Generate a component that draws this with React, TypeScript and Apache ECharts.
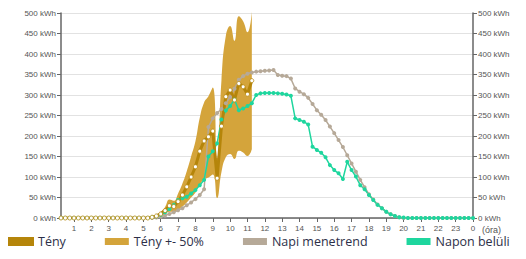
import React, { useEffect, useRef } from "react";
import * as echarts from "echarts";

// 15-minute intervals, value at end of each quarter hour (00:15 ... 24:00)
const tenyValues: (number | null)[] = [
  0, 0, 0, 0, 0, 0, 0, 0, 0, 0, 0, 0, 0, 0, 0, 0, 0, 0, 0, 0, 0,
  2, 5, 10, 18, 30, 28, 40, 56, 76, 100, 125, 163, 188, 198, 212, 97, 224, 296, 312, 288, 328, 320, 302, 335,
];

const napiMenetrend: number[] = [
  0, 0, 0, 0, 0, 0, 0, 0, 0, 0, 0, 0, 0, 0, 0, 0, 0, 0, 0, 0, 0, 0,
  1, 3, 6, 10, 14, 19, 24, 31, 38, 46,
  56, 70, 222, 243, 256, 266, 280, 295, 315, 337,
  346, 352, 355, 357, 358, 359, 360, 361, 349, 347,
  346, 340, 316, 308, 302, 293, 278, 263, 252, 239,
  223, 207, 190, 173, 153, 133, 113, 93, 75, 58,
  45, 33, 24, 15, 9, 5, 2, 0,
  0, 0, 0, 0, 0, 0, 0, 0, 0, 0, 0, 0, 0, 0, 0, 0,
];

const naponBeluli: number[] = [
  0, 0, 0, 0, 0, 0, 0, 0, 0, 0, 0, 0, 0, 0, 0, 0, 0, 0, 0, 0, 0,
  2, 4, 8, 14, 22, 32, 44, 48, 52, 60,
  68, 80, 93, 150, 163, 182, 240, 262, 273, 289,
  263, 267, 273, 280, 300, 304, 305, 305, 305, 304,
  303, 301, 298, 243, 239, 235, 228, 174, 166, 159,
  148, 129, 117, 109, 95, 137, 117, 101, 80, 70,
  56, 44, 32, 24, 15, 9, 5, 2, 1,
  0, 0, 0, 0, 0, 0, 0, 0, 0, 0, 0, 0, 0, 0, 0, 0,
];

// quarter-hour categories 00:15 ... 24:00
const quarters: string[] = Array.from({ length: 96 }, (_, i) => {
  const m = (i + 1) * 15;
  return `${Math.floor(m / 60)}:${String(m % 60).padStart(2, "0")}`;
});
const yTicks = { min: 0, max: 500, interval: 50 };

const C_TENY = "#B5850A";
const C_BAND = "#D4A43B";
const C_NAPI = "#B6A998";
const C_BELULI = "#1ED69E";

const isHour = (i: number) => (i + 1) % 4 === 0;

export default function App() {
  const ref = useRef<HTMLDivElement>(null);
  useEffect(() => {
    if (!ref.current) return;
    const chart = echarts.init(ref.current, undefined, { renderer: "svg" });
    const axisFont = { fontFamily: "Liberation Sans, Arial, sans-serif", fontSize: 8, color: "#555" };
    const yAxisCommon = {
      type: "value" as const,
      min: yTicks.min,
      max: yTicks.max,
      interval: yTicks.interval,
      axisLine: { show: true, lineStyle: { color: "#666", width: 1.5 } },
      axisTick: { show: true, length: 4, lineStyle: { color: "#666" } },
      axisLabel: { ...axisFont, margin: 5, formatter: (v: number) => `${v} kWh` },
    };
    chart.setOption({
      animation: false,
      grid: { left: 61, right: 53, top: 13, bottom: 41 },
      legend: {
        top: 235,
        left: 8,
        padding: 0,
        itemWidth: 24,
        itemHeight: 7,
        itemGap: 39,
        icon: "rect",
        textStyle: { fontFamily: "Open Sans, sans-serif", fontSize: 12.5, color: "#2d2f48" },
        data: [
          { name: "Tény", itemStyle: { color: C_TENY } },
          { name: "Tény +- 50%", itemStyle: { color: C_BAND } },
          { name: "Napi menetrend", itemStyle: { color: C_NAPI } },
          { name: "Napon belüli", itemStyle: { color: C_BELULI } },
        ],
      },
      xAxis: {
        type: "category",
        data: quarters,
        boundaryGap: false,
        name: "(óra)",
        nameLocation: "end",
        nameGap: 9,
        nameTextStyle: { ...axisFont, fontSize: 9, verticalAlign: "top", padding: [7, 0, 0, 0] },
        splitLine: { show: false },
        axisLine: { show: true, lineStyle: { color: "#666", width: 1.5 } },
        axisTick: { show: true, length: 4, alignWithLabel: true, interval: (i: number) => isHour(i), lineStyle: { color: "#666" } },
        axisLabel: {
          ...axisFont,
          margin: 6,
          interval: (i: number) => isHour(i),
          formatter: (_v: string, i: number) => `${((i + 1) / 4) % 24}`,
        },
      },
      yAxis: [
        { ...yAxisCommon, position: "left", splitLine: { show: true, lineStyle: { color: "#e2e2e2", width: 1 } } },
        { ...yAxisCommon, position: "right", splitLine: { show: false } },
      ],
      series: [
        {
          name: "band-lower",
          type: "line",
          stack: "band",
          smooth: true,
          symbol: "none",
          lineStyle: { opacity: 0 },
          data: tenyValues.map((v) => (v == null ? null : v * 0.5)),
          silent: true,
        },
        {
          name: "Tény +- 50%",
          type: "line",
          stack: "band",
          smooth: true,
          symbol: "none",
          lineStyle: { opacity: 0 },
          itemStyle: { color: C_BAND },
          areaStyle: { color: C_BAND, opacity: 1 },
          data: tenyValues,
        },
        {
          name: "Napi menetrend",
          type: "line",
          symbol: "circle",
          symbolSize: 4,
          showAllSymbol: true,
          itemStyle: { color: C_NAPI },
          lineStyle: { color: C_NAPI, width: 1.5 },
          data: napiMenetrend,
        },
        {
          name: "Napon belüli",
          type: "line",
          symbol: "circle",
          symbolSize: 4,
          showAllSymbol: true,
          itemStyle: { color: C_BELULI },
          lineStyle: { color: C_BELULI, width: 1.5 },
          data: naponBeluli,
        },
        {
          name: "Tény",
          type: "line",
          symbol: "circle",
          symbolSize: 4,
          showAllSymbol: true,
          itemStyle: { color: "#fff", borderColor: C_TENY, borderWidth: 0.8 },
          lineStyle: { color: C_TENY, width: 3 },
          data: tenyValues,
        },
      ],
    });
    return () => chart.dispose();
  }, []);
  return <div ref={ref} style={{ width: 526, height: 259, position: "absolute", left: 0, top: 0 }} />;
}
